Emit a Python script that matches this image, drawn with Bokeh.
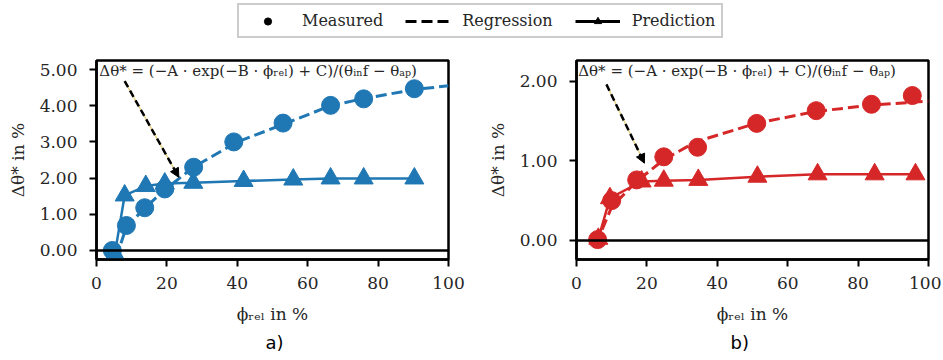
from bokeh.plotting import figure
from bokeh.models import (Range1d, Span, Arrow, NormalHead, Label, Legend, LegendItem,
                          Title, FixedTicker, NumeralTickFormatter)
from bokeh.layouts import column, row
from bokeh.embed import file_html
from bokeh.resources import INLINE

BLUE = "#1f77b4"
RED = "#d62728"
SERIF = "DejaVu Serif"
TXT = "#262626"

# ---------------- data: panel a ----------------
a_meas_x = [4.5, 8.5, 13.7, 19.4, 27.6, 39.0, 53.0, 66.5, 75.9, 90.3]
a_meas_y = [0.0, 0.69, 1.18, 1.70, 2.30, 3.00, 3.52, 4.01, 4.19, 4.47]
a_reg_x = [5.5, 8.5, 14.0, 19.5, 27.5, 40.0, 54.0, 66.5, 76.0, 90.5, 100.0]
a_reg_y = [-0.22, 0.65, 1.20, 1.68, 2.30, 3.00, 3.52, 4.00, 4.20, 4.45, 4.55]
a_pred_x = [5.2, 8.0, 14.0, 19.4, 27.5, 41.8, 55.9, 66.5, 75.9, 90.3]
a_pred_y = [-0.10, 1.52, 1.78, 1.85, 1.87, 1.92, 1.96, 1.99, 1.99, 1.99]
a_yticks = [0, 1, 2, 3, 4, 5]
a_yrange = (-0.25, 5.25)
a_arrow = (8.0, 4.68, 23.4, 2.02)
a_text_pos = (0.8, 5.2)

# ---------------- data: panel b ----------------
b_meas_x = [6.0, 10.0, 17.1, 24.8, 34.4, 51.2, 68.1, 83.8, 95.4]
b_meas_y = [0.01, 0.50, 0.76, 1.05, 1.17, 1.47, 1.63, 1.71, 1.82]
b_reg_x = [5.5, 10.0, 17.0, 25.0, 34.0, 51.0, 68.0, 84.0, 100.0]
b_reg_y = [-0.05, 0.42, 0.74, 1.02, 1.24, 1.47, 1.62, 1.70, 1.75]
b_pred_x = [6.2, 9.5, 18.5, 24.8, 34.6, 51.4, 68.5, 84.7, 96.3]
b_pred_y = [0.02, 0.53, 0.74, 0.75, 0.76, 0.80, 0.83, 0.83, 0.83]
b_yticks = [0, 1, 2]
b_yrange = (-0.24, 2.26)
b_arrow = (8.5, 1.96, 19.3, 0.97)
b_text_pos = (0.5, 2.235)

x_ticks = [0, 20, 40, 60, 80, 100]
formula = "Δθ* = (−A · exp(−B · ϕᵣₑₗ) + C)/(θᵢₙf − θₐₚ)"
legend_labels = ["Measured", "Regression", "Prediction"]


def make_panel(color, mx, my, rx, ry, px, py, yticks, yrange, arrow, tpos,
               caption, cap_offset, border_left, border_right):
    p = figure(frame_width=352, frame_height=199,
               x_range=Range1d(0, 100), y_range=Range1d(*yrange),
               output_backend="svg", toolbar_location=None,
               min_border_left=border_left, min_border_right=border_right,
               min_border_top=16, min_border_bottom=93,
               x_axis_label="ϕᵣₑₗ in %", y_axis_label="Δθ* in %")
    p.grid.visible = False
    p.outline_line_color = "black"
    p.outline_line_width = 2.5
    p.outline_line_alpha = 1
    p.background_fill_color = "white"
    p.border_fill_color = "white"

    p.xaxis.ticker = FixedTicker(ticks=x_ticks)
    p.yaxis.ticker = FixedTicker(ticks=yticks)
    p.yaxis.formatter = NumeralTickFormatter(format="0.00")
    for ax in (p.xaxis[0], p.yaxis[0]):
        ax.axis_line_width = 2.5
        ax.axis_line_color = "black"
        ax.major_tick_line_width = 2
        ax.major_tick_line_color = "black"
        ax.major_tick_out = 7
        ax.major_tick_in = 0
        ax.minor_tick_out = 0
        ax.minor_tick_in = 0
        ax.major_label_text_font = SERIF
        ax.major_label_text_font_size = "17px"
        ax.major_label_text_color = TXT
        ax.axis_label_text_font = SERIF
        ax.axis_label_text_font_size = "17px"
        ax.axis_label_text_font_style = "normal"
        ax.axis_label_text_color = TXT
    p.xaxis.major_label_standoff = 10
    p.xaxis.axis_label_standoff = 12
    p.yaxis.major_label_standoff = 12
    p.yaxis.axis_label_standoff = 9

    # regression (dashed), prediction (solid + triangles), measured (circles)
    p.line(rx, ry, line_color=color, line_width=3, line_dash="11 5")
    p.line(px, py, line_color=color, line_width=2.5)
    p.scatter(px, py, marker="triangle", size=19, fill_color=color, line_color=color)
    p.scatter(mx, my, marker="circle", size=18, fill_color=color, line_color=color)

    p.add_layout(Span(location=0, dimension="width", line_color="black", line_width=2.5))

    x0, y0, x1, y1 = arrow
    p.add_layout(Arrow(x_start=x0, y_start=y0, x_end=x1, y_end=y1, end=None,
                       line_color="#e6cf7a", line_width=1.2))
    p.add_layout(Arrow(x_start=x0, y_start=y0, x_end=x1, y_end=y1,
                       end=NormalHead(size=9, fill_color="black", line_color="black"),
                       line_color="black", line_width=2.5, line_dash="7 4"))
    p.add_layout(Label(x=tpos[0], y=tpos[1], text=formula, text_font=SERIF,
                       text_font_size="15px", text_color=TXT, text_baseline="top",
                       text_align="left"))

    p.add_layout(Title(text=caption, align="left", offset=cap_offset,
                       text_font="DejaVu Sans", text_font_size="18px",
                       text_font_style="normal", text_color="black", standoff=6), "below")
    return p


pa = make_panel(BLUE, a_meas_x, a_meas_y, a_reg_x, a_reg_y, a_pred_x, a_pred_y,
                a_yticks, a_yrange, a_arrow, a_text_pos, "a)", 169, 96, 34)
pb = make_panel(RED, b_meas_x, b_meas_y, b_reg_x, b_reg_y, b_pred_x, b_pred_y,
                b_yticks, b_yrange, b_arrow, b_text_pos, "b)", 154, 94, 13)

# ---------------- legend strip ----------------
lf = figure(width=941, height=44, output_backend="svg", toolbar_location=None,
            x_range=Range1d(0, 1), y_range=Range1d(0, 1),
            x_axis_location=None, y_axis_location=None, min_border=0)
lf.grid.visible = False
lf.outline_line_color = None
# legend-only renderers: their single point lies outside the visible range
r1 = lf.scatter(x=[5], y=[5], marker="circle", size=17, fill_color="black", line_color="black")
r2 = lf.line(x=[5, 6], y=[5, 5], line_dash="11 5", line_width=3, line_color="black")
r3a = lf.line(x=[5, 6], y=[5, 5], line_width=3, line_color="black")
r3b = lf.scatter(x=[5], y=[5], marker="triangle", size=18, fill_color="black", line_color="black")
legend = Legend(items=[LegendItem(label=legend_labels[0], renderers=[r1]),
                       LegendItem(label=legend_labels[1], renderers=[r2]),
                       LegendItem(label=legend_labels[2], renderers=[r3a, r3b])],
                orientation="horizontal", location=(237, 6),
                label_text_font=SERIF, label_text_font_size="16px", label_text_color=TXT,
                glyph_width=45, glyph_height=18, label_standoff=12, spacing=22,
                padding=6, margin=0, border_line_color="#cccccc", border_line_width=2,
                border_line_alpha=1, background_fill_alpha=1)
lf.add_layout(legend, "center")

layout = column(lf, row(pa, pb))

open("out.html", "w").write(file_html(layout, INLINE))
